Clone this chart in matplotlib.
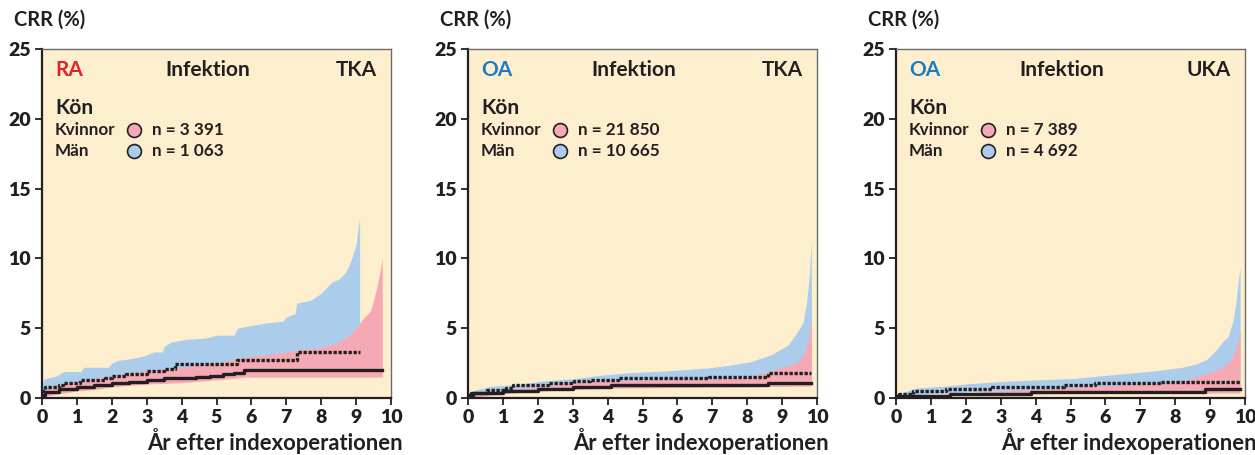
import matplotlib
matplotlib.use("Agg")
import matplotlib.pyplot as plt

plt.rcParams['font.family'] = ['Lato', 'DejaVu Sans']
plt.rcParams['font.weight'] = 'bold'

# ---- data ----
groups = ['RA', 'OA', 'OA']
implants = ['TKA', 'TKA', 'UKA']
n_women = ['n = 3 391', 'n = 21 850', 'n = 7 389']
n_men = ['n = 1 063', 'n = 10 665', 'n = 4 692']

# RA / TKA
ra_men_hi_x = [0, 0.05, 0.43, 0.62, 1.1, 1.2, 1.9, 2.0, 2.2, 2.5, 2.9, 3.2, 3.45, 3.5, 3.7, 4.1, 4.7, 5.0, 5.5, 5.6, 6.0, 6.5, 6.9, 7.0, 7.2, 7.25, 7.3, 7.7, 8.0, 8.3, 8.5, 8.7, 8.8, 8.9, 9.0, 9.05, 9.1]
ra_men_hi_y = [0.7, 1.35, 1.6, 1.9, 1.9, 2.2, 2.2, 2.5, 2.7, 2.8, 3.0, 3.3, 3.3, 3.7, 4.0, 4.2, 4.3, 4.5, 4.5, 5.0, 5.2, 5.4, 5.5, 5.8, 6.0, 6.0, 6.8, 7.0, 7.5, 8.3, 8.5, 9.0, 9.5, 10.2, 11.0, 12.0, 12.9]
ra_men_lo_y = [0.2, 0.4, 0.5, 0.6, 0.7, 0.7, 0.8, 0.8, 0.9, 1.0, 1.1, 1.2, 1.3, 1.3, 1.4, 1.5, 1.5, 1.6, 1.7, 1.7, 1.8, 1.8, 1.9, 1.9, 2.0, 2.0, 2.1, 2.1, 2.2, 2.2, 2.3, 2.3, 2.3, 2.4, 2.4, 2.4, 2.4]
ra_wom_band_x = [0, 0.5, 1.0, 1.5, 2.0, 2.5, 3.0, 3.5, 4.0, 4.5, 5.0, 5.5, 5.8, 6.0, 6.5, 7.0, 7.5, 8.0, 8.5, 8.8, 9.0, 9.2, 9.4, 9.5, 9.6, 9.68, 9.75]
ra_wom_hi_y = [0.6, 0.9, 1.2, 1.4, 1.6, 1.8, 2.0, 2.1, 2.2, 2.4, 2.5, 2.8, 2.9, 3.0, 3.1, 3.3, 3.5, 3.6, 4.0, 4.5, 5.0, 5.7, 6.2, 7.0, 8.0, 9.0, 10.0]
ra_wom_lo_y = [0.1, 0.3, 0.5, 0.6, 0.8, 0.9, 1.0, 1.05, 1.1, 1.2, 1.3, 1.4, 1.5, 1.5, 1.5, 1.5, 1.5, 1.5, 1.5, 1.5, 1.5, 1.5, 1.5, 1.5, 1.5, 1.5, 1.5]
ra_wom_x = [0, 0.1, 0.5, 1.0, 1.5, 2.0, 2.5, 3.0, 3.5, 4.4, 4.8, 5.2, 5.5, 5.8, 9.75]
ra_wom_y = [0.24, 0.4, 0.64, 0.8, 0.9, 1.07, 1.15, 1.3, 1.4, 1.5, 1.6, 1.7, 1.8, 2.0, 2.0]
ra_men_x = [0, 0.1, 0.5, 0.6, 1.1, 1.8, 2.0, 2.4, 3.0, 3.5, 3.8, 5.6, 7.3, 9.1]
ra_men_y = [0.5, 0.8, 0.9, 1.05, 1.3, 1.4, 1.55, 1.7, 1.9, 2.1, 2.4, 2.75, 3.3, 3.3]

# OA / TKA
oat_men_hi_x = [0, 0.1, 0.64, 1.4, 2.08, 3.04, 3.8, 4.57, 5.7, 6.87, 7.5, 8.1, 8.69, 9.17, 9.4, 9.6, 9.7, 9.78, 9.84]
oat_men_hi_y = [0.24, 0.5, 0.84, 0.96, 1.2, 1.39, 1.63, 1.8, 1.94, 2.15, 2.35, 2.6, 3.1, 3.8, 4.6, 5.4, 6.8, 8.8, 11.2]
oat_men_lo_y = [0.05, 0.2, 0.4, 0.6, 0.7, 0.8, 0.9, 1.0, 1.0, 1.1, 1.1, 1.1, 1.2, 1.2, 1.2, 1.2, 1.2, 1.2, 1.2]
oat_wom_band_x = [0, 0.5, 1.0, 2.0, 3.0, 4.0, 5.0, 6.0, 7.0, 8.0, 8.5, 9.0, 9.3, 9.5, 9.65, 9.75, 9.84]
oat_wom_hi_y = [0.1, 0.4, 0.6, 0.8, 1.1, 1.25, 1.3, 1.35, 1.4, 1.5, 1.8, 2.2, 2.4, 2.7, 3.3, 4.2, 5.6]
oat_wom_lo_y = [0.0, 0.15, 0.3, 0.5, 0.6, 0.7, 0.72, 0.75, 0.78, 0.8, 0.82, 0.83, 0.84, 0.85, 0.85, 0.85, 0.85]
oat_wom_x = [0, 0.1, 1.0, 2.0, 3.0, 4.1, 8.6, 9.84]
oat_wom_y = [0.2, 0.35, 0.5, 0.65, 0.79, 0.93, 1.05, 1.05]
oat_men_x = [0, 0.15, 0.55, 1.1, 1.3, 2.3, 3.04, 3.5, 4.3, 6.9, 8.6, 9.84]
oat_men_y = [0.1, 0.35, 0.55, 0.75, 0.9, 1.08, 1.2, 1.3, 1.4, 1.53, 1.8, 1.8]

# OA / UKA
oau_men_hi_x = [0, 0.22, 0.6, 1.37, 2.1, 3.1, 4.1, 5.1, 5.9, 6.8, 7.6, 8.2, 8.56, 8.9, 9.2, 9.38, 9.52, 9.66, 9.75, 9.81, 9.86]
oau_men_hi_y = [0.24, 0.43, 0.72, 0.84, 1.03, 1.2, 1.3, 1.4, 1.6, 1.8, 2.0, 2.2, 2.4, 2.75, 3.5, 4.1, 4.4, 5.6, 7.0, 8.5, 9.3]
oau_men_lo_y = [0.05, 0.1, 0.25, 0.35, 0.45, 0.5, 0.55, 0.6, 0.65, 0.7, 0.75, 0.8, 0.8, 0.8, 0.8, 0.8, 0.8, 0.8, 0.8, 0.8, 0.8]
oau_wom_band_x = [0, 1.85, 3.2, 4.3, 5.7, 7.1, 8.2, 8.56, 9.04, 9.33, 9.6, 9.76, 9.86]
oau_wom_hi_y = [0.1, 0.35, 0.55, 0.65, 0.85, 1.0, 1.2, 1.45, 1.9, 2.15, 2.75, 3.7, 4.8]
oau_wom_lo_y = [0.0, 0.2, 0.25, 0.3, 0.32, 0.33, 0.34, 0.35, 0.35, 0.35, 0.35, 0.35, 0.35]
oau_wom_x = [0, 1.56, 3.86, 8.85, 9.86]
oau_wom_y = [0.17, 0.31, 0.45, 0.67, 0.67]
oau_men_x = [0, 0.08, 0.5, 1.42, 2.76, 4.82, 5.69, 7.6, 9.86]
oau_men_y = [0.1, 0.3, 0.52, 0.65, 0.8, 0.9, 1.05, 1.17, 1.17]

panels = [
    (ra_men_hi_x, ra_men_lo_y, ra_men_hi_y, ra_wom_band_x, ra_wom_lo_y, ra_wom_hi_y,
     ra_wom_x, ra_wom_y, ra_men_x, ra_men_y),
    (oat_men_hi_x, oat_men_lo_y, oat_men_hi_y, oat_wom_band_x, oat_wom_lo_y, oat_wom_hi_y,
     oat_wom_x, oat_wom_y, oat_men_x, oat_men_y),
    (oau_men_hi_x, oau_men_lo_y, oau_men_hi_y, oau_wom_band_x, oau_wom_lo_y, oau_wom_hi_y,
     oau_wom_x, oau_wom_y, oau_men_x, oau_men_y),
]

bg = '#fdefce'
blue = '#abcdeb'
pink = '#f5a9b4'
group_colors = {'RA': '#e3212b', 'OA': '#1b7cc4'}
dark = '#231f20'

W, H = 1255, 455
fig = plt.figure(figsize=(W / 100, H / 100), dpi=100)
lefts = [42, 468, 896]
aw, ah = 349, 349
bottom = H - 398

for i, left in enumerate(lefts):
    ax = fig.add_axes([left / W, bottom / H, aw / W, ah / H])
    ax.set_facecolor(bg)
    mx, mlo, mhi, wx, wlo, whi, lx, ly, kx, ky = panels[i]

    ax.fill_between(mx, mlo, mhi, color=blue, lw=0)
    ax.fill_between(wx, wlo, whi, color=pink, lw=0)
    ax.step(lx, ly, where='post', color=dark, lw=2.4)
    ax.step(kx, ky, where='post', color=dark, lw=2.4, linestyle=(0, (1.0, 0.5)))

    ax.set_xlim(0, 10)
    ax.set_ylim(0, 25)
    ax.set_xticks(range(0, 11))
    ax.set_yticks(range(0, 26, 5))
    ax.tick_params(direction='out', length=5, width=1.3, color=dark,
                   labelsize=14, pad=3)
    for lab in ax.get_xticklabels() + ax.get_yticklabels():
        lab.set_fontweight('heavy')
        lab.set_color(dark)
    for s in ['left', 'bottom']:
        ax.spines[s].set_color(dark)
        ax.spines[s].set_linewidth(1.6)
    for s in ['top', 'right']:
        ax.spines[s].set_color('#6d6a6a')
        ax.spines[s].set_linewidth(1.0)

    tr = ax.transAxes
    ax.text(0.037, 0.94, groups[i], transform=tr, fontsize=15, fontweight='bold',
            color=group_colors[groups[i]], va='center', ha='left')
    ax.text(0.476, 0.94, 'Infektion', transform=tr, fontsize=15, fontweight='bold',
            color=dark, va='center', ha='center')
    ax.text(0.96, 0.94, implants[i], transform=tr, fontsize=15, fontweight='bold',
            color=dark, va='center', ha='right')
    ax.text(0.037, 0.83, 'Kön', transform=tr, fontsize=15, fontweight='bold',
            color=dark, va='center', ha='left')
    ax.text(0.037, 0.768, 'Kvinnor', transform=tr, fontsize=12.3, fontweight='bold',
            color=dark, va='center', ha='left')
    ax.text(0.037, 0.708, 'Män', transform=tr, fontsize=12.3, fontweight='bold',
            color=dark, va='center', ha='left')
    ax.plot([0.264], [0.768], 'o', transform=tr, ms=10, mfc=pink, mec=dark, mew=1.2, clip_on=False)
    ax.plot([0.264], [0.708], 'o', transform=tr, ms=10, mfc=blue, mec=dark, mew=1.2, clip_on=False)
    ax.text(0.315, 0.768, n_women[i], transform=tr, fontsize=12.3, fontweight='bold',
            color=dark, va='center', ha='left')
    ax.text(0.315, 0.708, n_men[i], transform=tr, fontsize=12.3, fontweight='bold',
            color=dark, va='center', ha='left')

    ax.text(-28 / aw, (398 - 20) / ah, 'CRR (%)', transform=tr, fontsize=14.5,
            fontweight='bold', color=dark, va='center', ha='left')
    ax.text((403 - 42) / aw, (398 - 441) / ah, 'År efter indexoperationen', transform=tr,
            fontsize=15.8, fontweight='bold', color=dark, va='center', ha='right')

fig.savefig('out.png', dpi=100)
